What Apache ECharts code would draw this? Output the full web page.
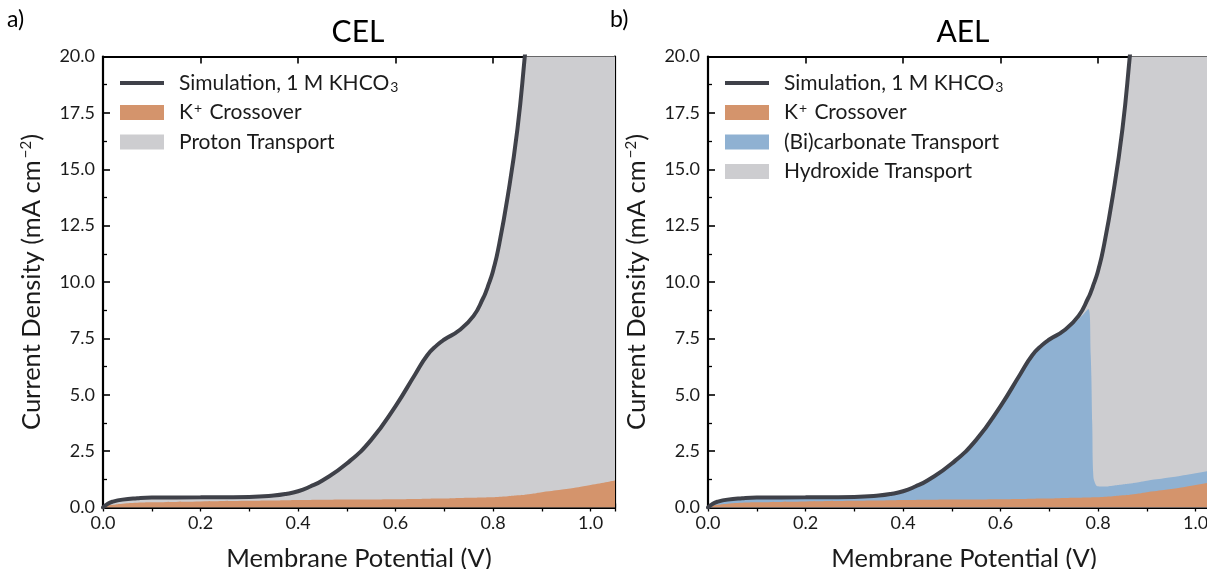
<!DOCTYPE html>
<html>
<head>
<meta charset="utf-8">
<script src="https://cdn.jsdelivr.net/npm/echarts@6/dist/echarts.min.js"></script>
<style>
  html, body { margin: 0; padding: 0; background: #ffffff; }
  #chart { width: 1207px; height: 569px; }
</style>
</head>
<body>
<div id="chart"></div>
<script>
// Membrane potential grid (V) shared by every series
const potential = [0, 0.01, 0.02, 0.04, 0.07, 0.1, 0.2, 0.3, 0.35, 0.375, 0.4, 0.425, 0.45, 0.5, 0.55, 0.6, 0.64, 0.665,
  0.685, 0.70, 0.73, 0.76, 0.78, 0.785, 0.788, 0.79, 0.795, 0.80, 0.81, 0.83, 0.85, 0.865, 0.88, 0.9, 0.95, 1.0, 1.05];

// Total simulated current density, 1 M KHCO3 (mA cm^-2)
const simulation = [0, 0.17, 0.26, 0.35, 0.41, 0.44, 0.45, 0.47, 0.53, 0.6, 0.72, 0.93, 1.2, 1.95, 3.0, 4.5, 5.9, 6.75,
  7.2, 7.45, 7.85, 8.5, 9.3, 9.55, 9.72, 9.85, 10.15, 10.5, 11.4, 13.8, 16.8, 20.0, 23.5, 28, 40, 55, 70];

// K+ crossover contribution (mA cm^-2)
const kCrossover = [0, 0.08, 0.12, 0.17, 0.21, 0.23, 0.27, 0.3, 0.31, 0.32, 0.33, 0.335, 0.34, 0.35, 0.36, 0.37, 0.38, 0.39,
  0.40, 0.40, 0.42, 0.43, 0.44, 0.44, 0.45, 0.45, 0.45, 0.46, 0.47, 0.5, 0.54, 0.57, 0.61, 0.68, 0.82, 1.0, 1.2];

// (Bi)carbonate transport through the AEL (mA cm^-2)
const bicarbonate = [0, 0.09, 0.14, 0.18, 0.20, 0.21, 0.18, 0.17, 0.22, 0.28, 0.39, 0.595, 0.86, 1.6, 2.64, 4.13, 5.52, 6.36,
  6.8, 7.05, 7.41, 7.92, 8.36, 6.26, 3.25, 1.05, 0.57, 0.48, 0.46, 0.47, 0.48, 0.49, 0.5, 0.51, 0.52, 0.52, 0.5];

const xTicks = [0, 0.2, 0.4, 0.6, 0.8, 1.0];
const panels = [
  { tag: 'a)', title: 'CEL' },
  { tag: 'b)', title: 'AEL' }
];

const NAMES = {
  sim: 'Simulation, 1 M KHCO3',
  k: 'K+ Crossover',
  proton: 'Proton Transport',
  carb: '(Bi)carbonate Transport',
  oh: 'Hydroxide Transport'
};
const COLORS = {
  line: '#3f4149',
  k: '#d4946c',
  grey: '#cdcdd0',
  blue: '#8fb1d2'
};

// Cumulative band tops: each band is filled from zero and layered
const kTop = kCrossover.slice();
const protonTop = kCrossover.map((v, i) => v + (simulation[i] - kCrossover[i]));
const carbTop = kCrossover.map((v, i) => v + bicarbonate[i]);
const hydroxideTop = carbTop.map((v, i) => v + (simulation[i] - carbTop[i]));
const pairs = arr => potential.map((x, i) => [x, arr[i]]);

const FONT = 'Lato';
const INK = '#1b1b1b';

const GRID_LEFT = [103, 708];
const GRID_TOP = 56.5;
const GRID_W = 512;
const GRID_H = 451;

const grids = GRID_LEFT.map(l => ({
  left: l, top: GRID_TOP, width: GRID_W, height: GRID_H,
  containLabel: false, outerBoundsMode: 'none'
}));

const frameLine = { show: true, onZero: false, lineStyle: { color: '#000', width: 2.2 } };
const tickLabel = { color: INK, fontFamily: FONT, fontSize: 18 };

const xAxes = [];
const yAxes = [];
grids.forEach((g, gi) => {
  // bottom: major ticks + labels
  xAxes.push({
    type: 'value', gridIndex: gi, position: 'bottom', min: 0, max: 1.05, interval: 0.2,
    axisLine: frameLine,
    axisTick: { show: true, inside: true, length: 7, lineStyle: { color: '#000', width: 1.6 } },
    axisLabel: { ...tickLabel, margin: 7, showMaxLabel: false, formatter: v => xTicks.includes(+v.toFixed(2)) ? v.toFixed(1) : '' },
    splitLine: { show: false },
    name: 'Membrane Potential (V)', nameLocation: 'middle', nameGap: 38,
    nameTextStyle: { color: INK, fontFamily: FONT, fontSize: 25.5 }
  });
  // bottom: minor ticks
  xAxes.push({
    type: 'value', gridIndex: gi, position: 'bottom', min: 0, max: 1.05, interval: 0.1,
    axisLine: { show: false },
    axisTick: { show: true, inside: true, length: 4, lineStyle: { color: '#000', width: 1.3 } },
    axisLabel: { show: false }, splitLine: { show: false }
  });
  // top: frame + major ticks
  xAxes.push({
    type: 'value', gridIndex: gi, position: 'top', min: 0, max: 1.05, interval: 0.2,
    axisLine: frameLine,
    axisTick: { show: true, inside: true, length: 7, lineStyle: { color: '#000', width: 1.6 } },
    axisLabel: { show: false }, splitLine: { show: false }
  });
  // top: minor ticks
  xAxes.push({
    type: 'value', gridIndex: gi, position: 'top', min: 0, max: 1.05, interval: 0.1,
    axisLine: { show: false },
    axisTick: { show: true, inside: true, length: 4, lineStyle: { color: '#000', width: 1.3 } },
    axisLabel: { show: false }, splitLine: { show: false }
  });
  // left y axis
  yAxes.push({
    type: 'value', gridIndex: gi, position: 'left', min: 0, max: 20, interval: 2.5,
    axisLine: frameLine,
    axisTick: { show: true, inside: true, length: 7, lineStyle: { color: '#000', width: 1.6 } },
    minorTick: { show: true, splitNumber: 2, length: 4, lineStyle: { color: '#000', width: 1.3 } },
    axisLabel: { ...tickLabel, margin: 8, formatter: v => v.toFixed(1) },
    splitLine: { show: false }, minorSplitLine: { show: false },
    name: 'Current Density (mA cm{sup|\u22122})', nameLocation: 'middle', nameGap: 58, nameRotate: 90,
    nameTextStyle: {
      color: INK, fontFamily: FONT, fontSize: 25.5,
      rich: { sup: { fontFamily: FONT, fontSize: 15, color: INK, verticalAlign: 'top', lineHeight: 15, padding: [0, 0, 10, 2] } }
    }
  });
  // right y axis
  yAxes.push({
    type: 'value', gridIndex: gi, position: 'right', min: 0, max: 20, interval: 2.5,
    axisLine: frameLine,
    axisTick: { show: true, inside: true, length: 7, lineStyle: { color: '#000', width: 1.6 } },
    minorTick: { show: true, splitNumber: 2, length: 4, lineStyle: { color: '#000', width: 1.3 } },
    axisLabel: { show: false }, splitLine: { show: false }, minorSplitLine: { show: false }
  });
});

const SMOOTH = 0.5;
function band(name, tops, color, gi, z) {
  return {
    type: 'line', name, data: pairs(tops),
    xAxisIndex: gi * 4, yAxisIndex: gi * 2,
    smooth: SMOOTH, symbol: 'none', color,
    itemStyle: { color },
    lineStyle: { width: 0, color },
    areaStyle: { color, opacity: 1, origin: 'start' },
    z, silent: true
  };
}
function simLine(gi) {
  return {
    type: 'line', name: NAMES.sim, data: pairs(simulation),
    xAxisIndex: gi * 4, yAxisIndex: gi * 2,
    smooth: SMOOTH, symbol: 'none', color: COLORS.line,
    itemStyle: { color: COLORS.line },
    lineStyle: { width: 4, color: COLORS.line, cap: 'round' },
    z: 6, silent: true
  };
}

const series = [
  // CEL panel
  simLine(0),
  band(NAMES.k, kTop, COLORS.k, 0, 4),
  band(NAMES.proton, protonTop, COLORS.grey, 0, 2),
  // AEL panel
  simLine(1),
  band(NAMES.k, kTop, COLORS.k, 1, 4),
  band(NAMES.carb, carbTop, COLORS.blue, 1, 3),
  band(NAMES.oh, hydroxideTop, COLORS.grey, 1, 2)
];

const LH = 22;
const legendRich = {
  t: { fontFamily: FONT, fontSize: 21, color: INK, lineHeight: LH },
  p: { fontFamily: FONT, fontSize: 21, color: INK, lineHeight: LH, padding: [0, 0, 0, 10] },
  sub: { fontFamily: FONT, fontSize: 14, color: INK, verticalAlign: 'bottom', lineHeight: 14, padding: [0, 0, 0, 1] },
  sup: { fontFamily: FONT, fontSize: 14, color: INK, verticalAlign: 'top', lineHeight: 14, padding: [0, 2, 0, 1] }
};
function legendText(name) {
  if (name === NAMES.sim) return '{p|Simulation, 1 M KHCO}{sub|3}';
  if (name === NAMES.k) return '{p|K}{sup|+}{t| Crossover}';
  return '{p|' + name + '}';
}
function legend(gi, names) {
  return {
    orient: 'vertical', left: GRID_LEFT[gi] + 12, top: 67,
    itemWidth: 44, itemHeight: 15, itemGap: 7.5,
    selectedMode: false,
    data: names.map(n => n === NAMES.sim
      ? { name: n, icon: 'path://M0,0H44V4H0Z' }
      : { name: n, icon: 'rect' }),
    formatter: legendText,
    textStyle: { fontFamily: FONT, fontSize: 21, color: INK, lineHeight: LH, rich: legendRich },
    itemStyle: { borderWidth: 0 }
  };
}

const graphic = [];
panels.forEach((p, gi) => {
  graphic.push({
    type: 'text', x: GRID_LEFT[gi] + GRID_W / 2 - 1, y: 32,
    style: { text: p.title, font: '30px Lato', fill: '#000', align: 'center', verticalAlign: 'middle' }
  });
  graphic.push({
    type: 'text', x: gi === 0 ? 7 : 610, y: 20,
    style: { text: p.tag, font: '23px Lato', fill: '#000', align: 'left', verticalAlign: 'middle' }
  });
});

const chart = echarts.init(document.getElementById('chart'), null, { renderer: 'canvas' });
chart.setOption({
  backgroundColor: '#ffffff',
  animation: false,
  textStyle: { fontFamily: FONT },
  grid: grids,
  xAxis: xAxes,
  yAxis: yAxes,
  legend: [
    legend(0, [NAMES.sim, NAMES.k, NAMES.proton]),
    legend(1, [NAMES.sim, NAMES.k, NAMES.carb, NAMES.oh])
  ],
  graphic,
  series
});
</script>
</body>
</html>
